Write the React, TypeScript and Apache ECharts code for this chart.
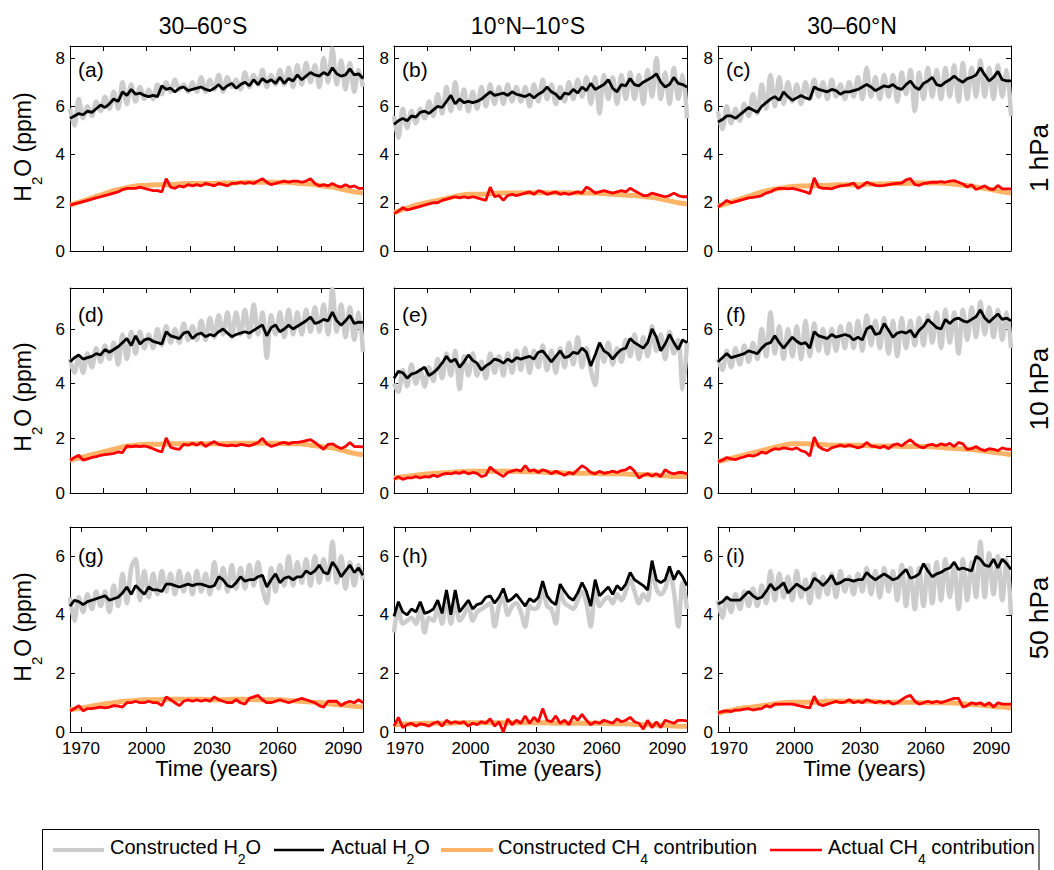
import React, { useEffect, useRef } from "react";
import * as echarts from "echarts";

// ---------- data ----------
const YEARS = [1965,1967,1969,1971,1973,1975,1977,1979,1981,1983,1985,1987,1989,1991,1993,1995,1997,1999,2001,2003,2005,2007,2009,2011,2013,2015,2017,2019,2021,2023,2025,2027,2029,2031,2033,2035,2037,2039,2041,2043,2045,2047,2049,2051,2053,2055,2057,2059,2061,2063,2065,2067,2069,2071,2073,2075,2077,2079,2081,2083,2085,2087,2089,2091,2093,2095,2097,2099];
const YEARS_C = [1965,1970,1975,1980,1985,1990,1995,2000,2005,2010,2015,2020,2025,2030,2035,2040,2045,2050,2055,2060,2065,2070,2075,2080,2085,2090,2095,2099];

const COLUMN_TITLES = ["30\u201360\u00b0S", "10\u00b0N\u201310\u00b0S", "30\u201360\u00b0N"];
const PRESSURE_LABELS = ["1 hPa", "10 hPa", "50 hPa"];
const PANEL_LETTERS = ["(a)", "(b)", "(c)", "(d)", "(e)", "(f)", "(g)", "(h)", "(i)"];
const Y_MAX = [8.5, 7.5, 7];
const Y_TICKS = [[0, 2, 4, 6, 8], [0, 2, 4, 6], [0, 2, 4, 6]];
const X_TICKS_UPPER = [1980, 2000, 2020, 2040, 2060, 2080];
const X_TICKS_LOWER = [1970, 2000, 2030, 2060, 2090];
const X_LABEL = "Time (years)";

// (a) 1 hPa, 30-60S
const A_CON_H2O = [5.9,5.2,6.3,5.5,6.0,5.6,6.2,5.8,6.4,5.9, 6.6,5.9,7.0,6.1,6.9,6.2,6.8,6.3,6.7,6.3, 6.9,6.5,7.0,6.6,7.1,6.7,6.9,6.6,7.0,6.6, 7.2,6.6,7.1,6.7,7.3,6.6,7.2,6.8,7.1,6.7, 7.4,6.8,7.3,6.9,7.5,6.8,7.3,6.9,7.5,6.9, 7.6,6.8,7.7,6.9,7.8,7.0,7.7,6.8,8.0,7.0, 8.4,6.9,7.9,6.7,7.8,6.6,7.5,6.8];
const A_ACT_H2O = [5.5,5.6,5.7,5.65,5.8,5.75,5.9,6.05,5.95,6.1, 6.3,6.2,6.6,6.45,6.7,6.5,6.55,6.45,6.4,6.45, 6.4,6.85,6.7,6.75,6.6,6.75,6.8,6.65,6.7,6.75, 6.8,6.7,6.65,6.75,6.9,6.7,6.85,6.95,6.75,6.9, 7.0,6.85,7.1,6.9,7.15,7.0,7.1,6.95,7.2,6.95, 7.15,7.05,7.3,7.1,7.25,7.4,7.3,7.25,7.4,7.3, 7.6,7.35,7.25,7.3,7.55,7.3,7.35,7.15];
const A_CON_CH4 = [1.9,2.05,2.2,2.35,2.5,2.6,2.7,2.72,2.75,2.75,2.78,2.8,2.8,2.8,2.82,2.82,2.85,2.85,2.85,2.85,2.85,2.8,2.78,2.7,2.65,2.55,2.45,2.4];
const A_ACT_CH4 = [1.9,1.95,2.0,2.05,2.1,2.15,2.2,2.25,2.3,2.35, 2.4,2.45,2.55,2.6,2.6,2.6,2.65,2.6,2.55,2.5, 2.5,2.45,3.0,2.65,2.6,2.7,2.65,2.75,2.7,2.75, 2.7,2.8,2.75,2.7,2.8,2.75,2.7,2.8,2.8,2.85, 2.8,2.85,2.8,2.9,3.0,2.85,2.75,2.8,2.85,2.9, 2.85,2.9,2.9,2.85,2.9,3.0,2.8,2.7,2.75,2.7, 2.8,2.7,2.65,2.75,2.65,2.7,2.6,2.6];

// (b) 1 hPa, 10N-10S
const B_CON_H2O = [5.6,4.7,5.9,5.1,5.8,5.3,5.9,5.5,6.2,5.6, 6.5,5.7,6.8,5.8,7.0,5.9,6.7,5.8,6.6,5.9, 6.8,6.0,6.9,6.1,6.8,6.1,6.9,6.2,6.8,6.2, 6.8,6.0,6.9,6.2,7.1,6.3,6.9,6.1,6.8,6.2, 7.0,6.3,7.1,6.4,7.2,6.1,7.2,5.7,7.3,6.3, 7.2,6.1,7.3,6.3,7.4,6.3,7.3,6.1,7.5,6.4, 8.0,6.3,7.4,6.1,7.6,6.3,7.3,5.5];
const B_ACT_H2O = [5.25,5.4,5.5,5.4,5.6,5.55,5.75,5.8,5.7,5.85, 6.0,5.95,6.2,6.45,6.1,6.3,6.15,6.2,6.15,6.2, 6.3,6.45,6.6,6.45,6.5,6.55,6.45,6.6,6.5,6.45, 6.4,6.5,6.35,6.5,6.6,6.8,6.6,6.5,6.3,6.55, 6.5,6.7,6.55,6.8,6.65,6.95,6.7,6.8,6.9,7.1, 6.75,6.6,6.9,6.85,7.15,6.9,6.85,7.0,7.1,7.2, 7.35,7.0,6.8,6.9,7.2,6.95,6.9,6.8];
const B_CON_CH4 = [1.6,1.75,1.9,2.0,2.1,2.2,2.3,2.35,2.35,2.38,2.4,2.4,2.42,2.42,2.42,2.42,2.42,2.4,2.4,2.38,2.35,2.32,2.3,2.25,2.2,2.1,2.0,1.95];
const B_ACT_CH4 = [1.55,1.65,1.8,1.7,1.75,1.8,1.85,1.9,1.95,2.0, 2.0,2.1,2.15,2.2,2.25,2.2,2.25,2.2,2.25,2.2, 2.15,2.1,2.65,2.25,2.3,2.1,2.3,2.35,2.3,2.35, 2.4,2.45,2.35,2.5,2.45,2.35,2.4,2.45,2.35,2.4, 2.35,2.4,2.45,2.4,2.65,2.55,2.4,2.45,2.5,2.45, 2.4,2.45,2.5,2.45,2.6,2.5,2.4,2.3,2.3,2.4, 2.35,2.3,2.25,2.3,2.4,2.3,2.25,2.25];

// (c) 1 hPa, 30-60N
const C_CON_H2O = [5.8,5.05,6.0,5.3,5.9,5.4,6.1,5.6,6.5,5.7, 6.9,5.9,7.3,6.0,7.2,6.1,7.0,6.2,6.9,6.1, 7.0,6.3,7.1,6.4,7.0,6.3,7.1,6.4,6.9,6.3, 7.0,6.4,7.2,6.3,7.6,6.4,7.2,6.3,7.3,6.4, 7.3,6.2,7.4,6.5,7.5,5.8,7.4,6.3,7.6,6.4, 7.5,6.3,7.6,6.4,7.7,6.2,7.8,6.3,7.6,6.4, 7.9,6.4,7.6,6.3,7.7,6.4,7.5,5.6];
const C_ACT_H2O = [5.35,5.45,5.6,5.6,5.5,5.65,5.8,5.95,5.85,5.75, 6.0,6.15,6.3,6.4,6.25,6.6,6.4,6.25,6.35,6.45, 6.35,6.3,6.8,6.7,6.65,6.6,6.7,6.65,6.5,6.6, 6.6,6.65,6.7,6.8,6.9,6.8,6.65,6.75,6.85,6.8, 6.9,6.75,6.7,6.9,7.05,6.8,6.7,6.95,7.05,7.2, 6.9,6.85,7.0,7.1,7.25,7.1,7.0,7.15,7.2,7.3, 7.6,7.3,7.05,7.2,7.45,7.1,7.05,7.05];
const C_CON_CH4 = [1.85,2.0,2.15,2.3,2.45,2.55,2.62,2.68,2.7,2.72,2.72,2.75,2.75,2.75,2.78,2.78,2.8,2.8,2.82,2.82,2.82,2.8,2.75,2.7,2.62,2.55,2.45,2.4];
const C_ACT_CH4 = [1.82,1.95,2.1,2.0,2.05,2.1,2.15,2.2,2.22,2.25, 2.3,2.4,2.45,2.55,2.6,2.6,2.58,2.6,2.55,2.5, 2.45,2.38,3.03,2.65,2.6,2.6,2.58,2.65,2.7,2.72, 2.75,2.82,2.6,2.7,2.85,2.78,2.72,2.7,2.72,2.75, 2.78,2.8,2.82,2.95,3.0,2.75,2.72,2.8,2.82,2.86, 2.85,2.88,2.85,2.9,2.92,2.85,2.78,2.65,2.75,2.55, 2.62,2.7,2.58,2.55,2.72,2.58,2.58,2.58];

// (d) 10 hPa, 30-60S
const D_CON_H2O = [4.9,4.4,5.0,4.4,5.1,4.6,5.3,4.8,5.4,4.9, 5.5,4.7,5.8,4.9,5.9,5.1,5.9,5.3,5.8,5.3, 6.0,5.4,6.1,5.5,6.0,5.5,6.2,5.6,6.1,5.6, 6.3,5.6,6.4,5.7,6.5,5.8,6.6,5.7,6.6,5.8, 6.7,5.7,6.9,5.8,6.6,4.95,6.5,5.8,6.6,5.7, 6.7,5.8,6.6,5.8,6.7,5.9,6.8,5.9,6.9,5.8, 7.45,5.9,6.9,5.7,6.8,5.6,6.6,5.15];
const D_ACT_H2O = [4.8,4.95,5.05,4.9,4.95,5.0,5.1,5.05,5.25,5.15, 5.25,5.35,5.5,5.65,5.4,5.75,5.45,5.6,5.65,5.55, 5.5,5.45,5.9,5.75,5.7,5.65,5.85,5.9,5.65,5.8, 5.85,5.72,5.8,5.75,5.9,6.0,5.85,5.72,5.8,5.85, 5.9,5.85,5.95,6.05,6.15,5.75,6.05,6.15,5.9,6.0, 6.14,6.0,6.1,6.2,6.3,6.44,6.2,6.25,6.35,6.3, 6.62,6.3,6.14,6.3,6.5,6.2,6.25,6.24];
const D_CON_CH4 = [1.2,1.3,1.4,1.5,1.6,1.7,1.75,1.78,1.78,1.8,1.8,1.8,1.8,1.8,1.8,1.82,1.82,1.82,1.82,1.82,1.8,1.8,1.75,1.7,1.65,1.55,1.45,1.4];
const D_ACT_CH4 = [1.2,1.3,1.38,1.2,1.25,1.3,1.33,1.38,1.4,1.42, 1.45,1.5,1.48,1.72,1.7,1.72,1.7,1.72,1.68,1.62, 1.55,1.5,2.02,1.68,1.62,1.6,1.78,1.75,1.82,1.75, 1.85,1.7,1.8,1.88,1.78,1.75,1.72,1.75,1.72,1.78, 1.75,1.72,1.78,1.85,2.0,1.8,1.7,1.75,1.82,1.85, 1.8,1.85,1.85,1.88,1.92,1.95,1.85,1.72,1.6,1.78, 1.8,1.7,1.63,1.7,1.85,1.7,1.7,1.69];

// (e) 10 hPa, 10N-10S
const E_CON_H2O = [4.0,3.7,4.5,3.9,4.7,4.0,4.5,3.9,4.6,4.1, 4.9,4.2,5.1,4.3,5.2,3.8,5.0,4.3,5.1,4.3, 4.8,4.2,5.1,4.4,5.0,4.3,5.1,4.4,5.2,4.5, 5.3,4.4,5.2,4.6,5.4,4.5,5.2,4.4,5.3,4.6, 5.5,4.7,5.7,4.6,5.3,4.5,3.95,5.4,4.8,5.5, 4.7,5.3,4.8,5.6,5.0,5.8,4.9,5.7,5.0,6.1, 5.2,5.8,4.9,5.9,5.1,5.6,3.8,5.5];
const E_ACT_H2O = [4.2,4.45,4.4,4.2,4.35,4.4,4.5,4.6,4.3,4.4, 4.55,4.75,5.0,4.8,4.9,4.6,4.8,5.05,4.85,4.75, 4.5,4.65,4.75,4.9,4.85,4.75,4.9,4.8,4.95,4.9, 4.95,5.0,4.9,5.15,5.2,5.0,4.8,5.0,5.2,4.95, 5.0,5.15,5.1,5.3,5.15,4.65,5.05,5.5,5.2,5.1, 4.9,5.1,5.25,5.3,5.65,5.5,5.4,5.3,5.5,6.0, 5.7,5.2,5.45,5.8,5.5,5.25,5.6,5.5];
const E_CON_CH4 = [0.55,0.6,0.65,0.7,0.72,0.75,0.78,0.8,0.8,0.8,0.8,0.8,0.78,0.78,0.75,0.75,0.72,0.72,0.72,0.7,0.7,0.7,0.68,0.68,0.65,0.62,0.6,0.6];
const E_ACT_CH4 = [0.5,0.6,0.5,0.55,0.55,0.6,0.55,0.6,0.58,0.65, 0.6,0.68,0.72,0.7,0.75,0.72,0.78,0.7,0.75,0.72, 0.6,0.65,0.95,0.8,0.7,0.6,0.75,0.8,0.85,0.8, 1.0,0.8,0.85,0.75,0.85,0.8,0.7,0.8,0.72,0.65, 0.75,0.7,0.85,1.0,0.9,0.75,0.7,0.8,0.72,0.75, 0.8,0.75,0.82,0.85,0.95,0.8,0.55,0.65,0.7,0.62, 0.7,0.6,0.85,0.75,0.7,0.75,0.75,0.7];

// (f) 10 hPa, 30-60N
const F_CON_H2O = [4.9,4.5,5.2,4.6,5.3,4.7,5.4,4.8,5.5,4.9, 6.0,5.0,6.6,5.1,6.1,4.9,6.0,5.0,6.1,4.9, 6.3,5.0,6.2,5.2,6.0,5.1,6.0,5.2,6.1,5.3, 6.2,5.3,6.3,5.2,6.5,5.4,6.3,5.3,6.4,5.1, 6.3,5.0,6.4,5.3,6.3,5.4,6.4,5.4,6.5,5.5, 6.6,5.3,6.7,5.5,6.6,5.1,6.7,5.6,6.8,5.7, 7.0,5.8,6.8,5.7,6.7,5.6,6.6,5.3];
const F_ACT_H2O = [4.8,4.95,5.1,4.95,5.0,5.05,5.1,5.2,5.15,5.1, 5.3,5.45,5.5,5.75,5.5,5.3,5.5,5.7,5.55,5.45, 5.5,5.3,5.9,5.75,5.7,5.65,5.8,5.7,5.75,5.8, 5.75,5.6,5.7,5.6,6.0,6.1,5.8,5.85,6.2,5.95, 5.7,5.85,5.9,5.85,5.95,5.7,5.95,6.1,6.35,6.2, 6.05,6.0,6.35,6.2,6.35,6.4,6.3,6.25,6.35,6.45, 6.7,6.4,6.25,6.4,6.55,6.35,6.4,6.3];
const F_CON_CH4 = [1.15,1.25,1.35,1.45,1.55,1.65,1.75,1.8,1.8,1.78,1.76,1.75,1.75,1.75,1.72,1.72,1.72,1.7,1.7,1.7,1.68,1.65,1.62,1.6,1.55,1.5,1.45,1.4];
const F_ACT_CH4 = [1.15,1.2,1.3,1.25,1.22,1.28,1.32,1.38,1.35,1.4, 1.5,1.45,1.55,1.62,1.6,1.65,1.62,1.6,1.65,1.55, 1.5,1.35,2.05,1.7,1.6,1.55,1.65,1.7,1.75,1.7, 1.75,1.7,1.65,1.7,1.85,1.72,1.7,1.65,1.72,1.62, 1.75,1.8,1.72,1.85,1.95,1.8,1.7,1.65,1.75,1.78, 1.72,1.8,1.75,1.82,1.7,1.85,1.8,1.6,1.62,1.7, 1.6,1.55,1.62,1.6,1.55,1.65,1.6,1.6];

// (g) 50 hPa, 30-60S
const G_CON_H2O = [4.6,3.8,4.6,4.1,4.7,4.2,4.8,4.3,4.8,4.1, 5.0,4.3,5.4,4.4,5.6,5.9,4.5,5.5,4.6,5.4, 4.7,5.5,4.8,5.4,4.7,5.5,4.8,5.4,4.7,5.5, 4.8,5.4,4.7,5.8,4.9,5.6,4.8,5.7,4.9,5.6, 4.9,5.7,5.0,5.8,4.9,4.4,5.6,4.8,5.7,5.0, 6.0,5.0,5.8,5.1,5.9,5.0,6.0,5.1,5.9,5.2, 6.5,5.1,6.0,4.9,5.8,5.0,5.7,5.2];
const G_ACT_H2O = [4.3,4.5,4.45,4.35,4.45,4.5,4.55,4.6,4.65,4.5, 4.55,4.6,4.75,4.95,4.7,5.0,4.85,4.7,4.95,4.85, 4.85,4.8,5.05,5.05,5.0,4.95,5.0,5.05,5.0,5.05, 5.05,5.0,4.95,5.0,5.3,5.2,5.0,4.95,5.1,5.3, 5.15,5.2,5.2,5.3,5.35,4.95,5.2,5.4,5.1,5.25, 5.3,5.2,5.3,5.3,5.5,5.4,5.5,5.7,5.45,5.4, 5.8,5.6,5.3,5.5,5.7,5.45,5.6,5.35];
const G_CON_CH4 = [0.75,0.82,0.88,0.95,1.0,1.05,1.08,1.1,1.1,1.12,1.12,1.12,1.12,1.1,1.1,1.12,1.12,1.1,1.1,1.1,1.08,1.05,1.02,1.0,0.95,0.92,0.88,0.85];
const G_ACT_CH4 = [0.72,0.8,0.9,0.72,0.8,0.8,0.82,0.85,0.82,0.85, 0.9,0.88,0.85,1.0,1.0,1.05,1.0,1.0,1.05,1.0, 1.0,0.9,1.2,1.1,1.0,0.9,1.05,1.1,1.05,1.1, 1.05,1.1,1.05,1.2,1.1,1.05,1.0,1.0,1.1,1.0, 0.95,1.15,1.2,1.25,1.1,1.0,1.0,1.05,1.1,1.05, 1.0,1.05,1.1,1.15,1.1,1.05,1.0,0.9,0.85,1.05, 1.05,1.05,0.9,1.0,1.05,1.0,1.1,1.0];

// (h) 50 hPa, 10N-10S
const H_CON_H2O = [3.4,4.2,3.7,3.8,3.9,3.7,4.3,3.4,3.9,3.8, 4.3,3.7,4.7,3.7,4.6,3.8,4.0,4.3,3.8,4.1, 4.2,4.3,4.4,3.6,4.3,4.6,4.0,4.3,4.4,4.1, 3.6,4.3,4.2,4.3,4.9,4.3,4.2,3.7,4.8,4.4, 4.3,4.2,4.5,4.8,4.4,3.6,4.9,4.3,4.5,4.6, 4.4,4.7,4.5,4.8,5.2,4.8,4.4,4.7,4.5,5.6, 4.9,4.7,4.9,5.4,4.8,3.6,5.1,4.2];
const H_ACT_H2O = [3.95,4.45,4.1,4.0,4.2,4.1,4.45,4.05,4.1,4.2, 4.5,4.05,4.85,4.0,4.85,4.1,4.3,4.5,4.2,4.35, 4.4,4.6,4.65,4.4,4.6,4.9,4.45,4.55,4.7,4.5, 4.3,4.55,4.45,4.6,5.15,4.65,4.45,4.35,5.05,4.8, 4.6,4.5,4.75,5.1,4.8,4.3,5.2,4.65,4.8,4.95, 4.7,5.0,4.85,5.05,5.45,5.2,5.1,5.0,4.85,5.85, 5.2,5.1,5.2,5.65,5.2,5.5,5.3,5.0];
const H_CON_CH4 = [0.25,0.27,0.28,0.3,0.3,0.3,0.32,0.32,0.32,0.32,0.32,0.32,0.32,0.32,0.32,0.3,0.3,0.3,0.3,0.3,0.28,0.28,0.26,0.25,0.24,0.22,0.2,0.2];
const H_ACT_CH4 = [0.2,0.5,0.15,0.25,0.3,0.2,0.28,0.25,0.2,0.3, 0.35,0.2,0.4,0.3,0.35,0.3,0.35,0.2,0.3,0.25, 0.35,0.3,0.45,0.2,0.35,0.0,0.45,0.25,0.4,0.3, 0.55,0.3,0.5,0.35,0.8,0.4,0.35,0.55,0.3,0.4, 0.25,0.55,0.4,0.6,0.4,0.25,0.35,0.3,0.4,0.35, 0.3,0.45,0.35,0.4,0.5,0.35,0.3,0.1,0.4,0.15, 0.35,0.15,0.4,0.35,0.3,0.4,0.4,0.38];

// (i) 50 hPa, 30-60N
const I_CON_H2O = [4.5,3.9,4.6,4.1,4.7,4.2,4.8,4.3,4.9,4.3, 5.0,4.4,5.5,4.5,5.4,4.6,5.3,4.5,5.5,4.6, 5.2,4.4,5.4,4.6,5.3,4.7,5.4,4.6,5.5,4.8, 5.3,4.7,5.4,4.8,5.6,4.7,5.5,4.6,5.6,4.8, 5.5,4.5,5.7,4.3,5.6,4.2,5.6,4.3,5.7,4.4, 5.8,4.5,5.9,4.6,5.7,4.2,5.9,4.5,5.8,4.6, 6.5,4.6,6.1,4.7,6.0,4.5,5.9,4.0];
const I_ACT_H2O = [4.37,4.45,4.6,4.5,4.5,4.5,4.65,4.8,4.65,4.55, 4.6,4.8,5.05,4.85,4.95,5.1,4.75,4.9,5.05,4.95, 4.85,4.95,5.25,5.15,5.0,5.15,5.35,5.05,5.1,5.2, 5.2,5.15,5.2,5.2,5.45,5.3,5.2,5.3,5.4,5.3, 5.2,5.25,5.4,5.55,5.25,5.3,5.4,5.75,5.5,5.3, 5.4,5.45,5.55,5.6,5.8,5.55,5.6,5.55,5.5,6.0, 5.9,5.7,5.65,5.9,5.6,5.9,5.75,5.55];
const I_CON_CH4 = [0.65,0.72,0.8,0.85,0.9,0.95,1.0,1.02,1.02,1.02,1.05,1.05,1.05,1.05,1.05,1.02,1.02,1.02,1.02,1.0,1.0,1.0,0.98,0.95,0.92,0.88,0.85,0.82];
const I_ACT_CH4 = [0.65,0.7,0.72,0.7,0.75,0.75,0.78,0.8,0.75,0.78, 0.8,0.9,0.85,0.95,0.95,0.95,0.95,0.95,0.92,0.88, 0.85,0.82,1.22,0.95,0.9,0.95,1.0,1.05,1.0,1.02, 1.1,1.0,1.05,1.0,1.1,1.05,1.0,1.05,1.0,1.05, 0.95,1.0,1.1,1.2,1.25,1.05,0.95,1.0,1.05,1.0, 1.05,1.0,1.05,1.1,1.15,1.15,0.85,0.9,1.0,0.95, 1.0,0.9,1.0,0.85,1.0,0.95,0.95,0.95];

const PANELS = [
  { con: A_CON_H2O, act: A_ACT_H2O, conCh4: A_CON_CH4, actCh4: A_ACT_CH4 },
  { con: B_CON_H2O, act: B_ACT_H2O, conCh4: B_CON_CH4, actCh4: B_ACT_CH4 },
  { con: C_CON_H2O, act: C_ACT_H2O, conCh4: C_CON_CH4, actCh4: C_ACT_CH4 },
  { con: D_CON_H2O, act: D_ACT_H2O, conCh4: D_CON_CH4, actCh4: D_ACT_CH4 },
  { con: E_CON_H2O, act: E_ACT_H2O, conCh4: E_CON_CH4, actCh4: E_ACT_CH4 },
  { con: F_CON_H2O, act: F_ACT_H2O, conCh4: F_CON_CH4, actCh4: F_ACT_CH4 },
  { con: G_CON_H2O, act: G_ACT_H2O, conCh4: G_CON_CH4, actCh4: G_ACT_CH4 },
  { con: H_CON_H2O, act: H_ACT_H2O, conCh4: H_CON_CH4, actCh4: H_ACT_CH4 },
  { con: I_CON_H2O, act: I_ACT_H2O, conCh4: I_CON_CH4, actCh4: I_ACT_CH4 },
];

// ---------- layout / style ----------
const FONT = "'Liberation Sans', Arial, Helvetica, sans-serif";
const COL_LEFT = [70, 394, 718];
const ROW_TOP = [46, 288, 527];
const PW = 293;
const PH = 205;
const C_GRAY = "#cccccc";
const C_BLACK = "#000000";
const C_ORANGE = "#ffb366";
const C_RED = "#ff0000";

let measureCtx: CanvasRenderingContext2D | null = null;
function tw(text: string, size: number): number {
  if (!measureCtx) measureCtx = document.createElement("canvas").getContext("2d");
  if (!measureCtx) return text.length * size * 0.55;
  measureCtx.font = `${size}px 'Liberation Sans'`;
  return measureCtx.measureText(text).width;
}

type Piece = [string, boolean];
function subPieces(parts: Piece[], x0: number, y0: number, size: number, subSize: number, subDy: number) {
  const out: any[] = [];
  let x = x0;
  parts.forEach(([t, sub]) => {
    const fs = sub ? subSize : size;
    out.push({
      type: "text", x, y: y0 + (sub ? subDy : 0), silent: true,
      style: { text: t, fontSize: fs, fontFamily: FONT, fill: "#000", align: "left", verticalAlign: "middle" },
    });
    x += tw(t, fs);
  });
  return { els: out, width: x - x0 };
}
function piecesWidth(parts: Piece[], size: number, subSize: number) {
  return parts.reduce((s, [t, sub]) => s + tw(t, sub ? subSize : size), 0);
}

function buildOption() {
  const grid: any[] = [];
  const xAxis: any[] = [];
  const yAxis: any[] = [];
  const series: any[] = [];
  const graphic: any[] = [];
  const axisLine = { show: true, onZero: false, lineStyle: { color: "#000", width: 1 } };

  PANELS.forEach((p, k) => {
    const r = Math.floor(k / 3);
    const c = k % 3;
    grid.push({ left: COL_LEFT[c], top: ROW_TOP[r], width: PW, height: PH, containLabel: false });
    const xt = r === 2 ? X_TICKS_LOWER : X_TICKS_UPPER;
    ["bottom", "top"].forEach((pos) => {
      const lab = pos === "bottom" && r === 2;
      xAxis.push({
        type: "value", gridIndex: k, position: pos, min: 1965, max: 2099,
        axisLine,
        axisTick: { show: true, inside: true, length: 5, customValues: xt, lineStyle: { color: "#000", width: 1 } },
        axisLabel: {
          show: lab, customValues: xt, fontSize: 17, fontFamily: FONT, color: "#000", margin: 8,
          formatter: (v: number) => String(Math.round(v)),
        },
        splitLine: { show: false },
        name: lab ? X_LABEL : "",
        nameLocation: "middle",
        nameGap: 25,
        nameTextStyle: { fontSize: 22, fontFamily: FONT, color: "#000" },
      });
    });
    ["left", "right"].forEach((pos) => {
      yAxis.push({
        type: "value", gridIndex: k, position: pos, min: 0, max: Y_MAX[r],
        axisLine,
        axisTick: { show: true, inside: true, length: 5, customValues: Y_TICKS[r], lineStyle: { color: "#000", width: 1 } },
        axisLabel: {
          show: pos === "left", customValues: Y_TICKS[r], fontSize: 17, fontFamily: FONT, color: "#000", margin: 5,
          formatter: (v: number) => String(v),
        },
        splitLine: { show: false },
      });
    });
    const xi = 2 * k;
    const yi = 2 * k;
    const mk = (xs: number[], ys: number[]) => xs.map((x, i) => [x, ys[i]]);
    const base = { type: "line", xAxisIndex: xi, yAxisIndex: yi, showSymbol: false, symbol: "none", silent: true };
    series.push({ ...base, name: "Constructed H2O", data: mk(YEARS, p.con), smooth: 0.35, lineStyle: { color: C_GRAY, width: 4.5 }, z: 2 });
    series.push({ ...base, name: "Actual H2O", data: mk(YEARS, p.act), smooth: false, lineStyle: { color: C_BLACK, width: 2.8 }, z: 3 });
    series.push({ ...base, name: "Constructed CH4", data: mk(YEARS_C, p.conCh4), smooth: 0.3, lineStyle: { color: C_ORANGE, width: 5 }, z: 2 });
    series.push({ ...base, name: "Actual CH4", data: mk(YEARS, p.actCh4), smooth: false, lineStyle: { color: C_RED, width: 2.8 }, z: 4 });

    // panel letter
    const letterY = [69, 314, 555][r];
    graphic.push({
      type: "text", x: COL_LEFT[c] + 8, y: letterY, silent: true, z: 10,
      style: { text: PANEL_LETTERS[k], fontSize: 21, fontFamily: FONT, fill: "#000", align: "left", verticalAlign: "middle" },
    });
  });

  // column titles
  const titleX = [203, 528, 852];
  COLUMN_TITLES.forEach((t, c) => {
    graphic.push({
      type: "text", x: titleX[c], y: 25.5, silent: true,
      style: { text: t, fontSize: 23, fontFamily: FONT, fill: "#000", align: "center", verticalAlign: "middle" },
    });
  });

  // pressure labels on the right
  const presY = [158, 389, 618];
  PRESSURE_LABELS.forEach((t, r) => {
    graphic.push({
      type: "text", x: 1039, y: presY[r], rotation: Math.PI / 2, silent: true,
      style: { text: t, fontSize: 26, fontFamily: FONT, fill: "#000", align: "center", verticalAlign: "middle" },
    });
  });

  // y axis labels H2O (ppm)
  const yLabParts: Piece[] = [["H", false], ["2", true], ["O (ppm)", false]];
  const ylw = piecesWidth(yLabParts, 23, 15);
  const ylabY = [147, 397, 627];
  ylabY.forEach((cy) => {
    const { els } = subPieces(yLabParts, -ylw / 2, 0, 23, 15, 13);
    graphic.push({ type: "group", x: 23, y: cy, rotation: Math.PI / 2, children: els });
  });

  // legend
  graphic.push({
    type: "rect", silent: true,
    shape: { x: 42.5, y: 829.5, width: 996.5, height: 60 },
    style: { fill: "#fff", stroke: "#000", lineWidth: 1 },
  });
  const legendItems: { color: string; w: number; x1: number; x2: number; tx: number; parts: Piece[] }[] = [
    { color: C_GRAY, w: 4, x1: 53, x2: 104, tx: 110, parts: [["Constructed H", false], ["2", true], ["O", false]] },
    { color: C_BLACK, w: 2.5, x1: 274, x2: 324, tx: 331, parts: [["Actual H", false], ["2", true], ["O", false]] },
    { color: C_ORANGE, w: 4, x1: 441, x2: 493, tx: 498, parts: [["Constructed CH", false], ["4", true], [" contribution", false]] },
    { color: C_RED, w: 2.5, x1: 770, x2: 822, tx: 828, parts: [["Actual CH", false], ["4", true], [" contribution", false]] },
  ];
  legendItems.forEach((it) => {
    graphic.push({
      type: "line", silent: true,
      shape: { x1: it.x1, y1: 850, x2: it.x2, y2: 850 },
      style: { stroke: it.color, lineWidth: it.w },
    });
    const { els } = subPieces(it.parts, it.tx, 847, 20, 14, 12);
    els.forEach((e) => graphic.push(e));
  });

  return {
    animation: false,
    backgroundColor: "#ffffff",
    grid, xAxis, yAxis, series, graphic,
  };
}

export default function App() {
  const ref = useRef<HTMLDivElement>(null);
  useEffect(() => {
    if (!ref.current) return;
    const chart = echarts.init(ref.current, undefined, { renderer: "svg" });
    chart.setOption(buildOption() as any);
    return () => chart.dispose();
  }, []);
  return (
    <div
      ref={ref}
      style={{ position: "absolute", left: 0, top: 0, width: 1054, height: 870, background: "#fff" }}
    />
  );
}
